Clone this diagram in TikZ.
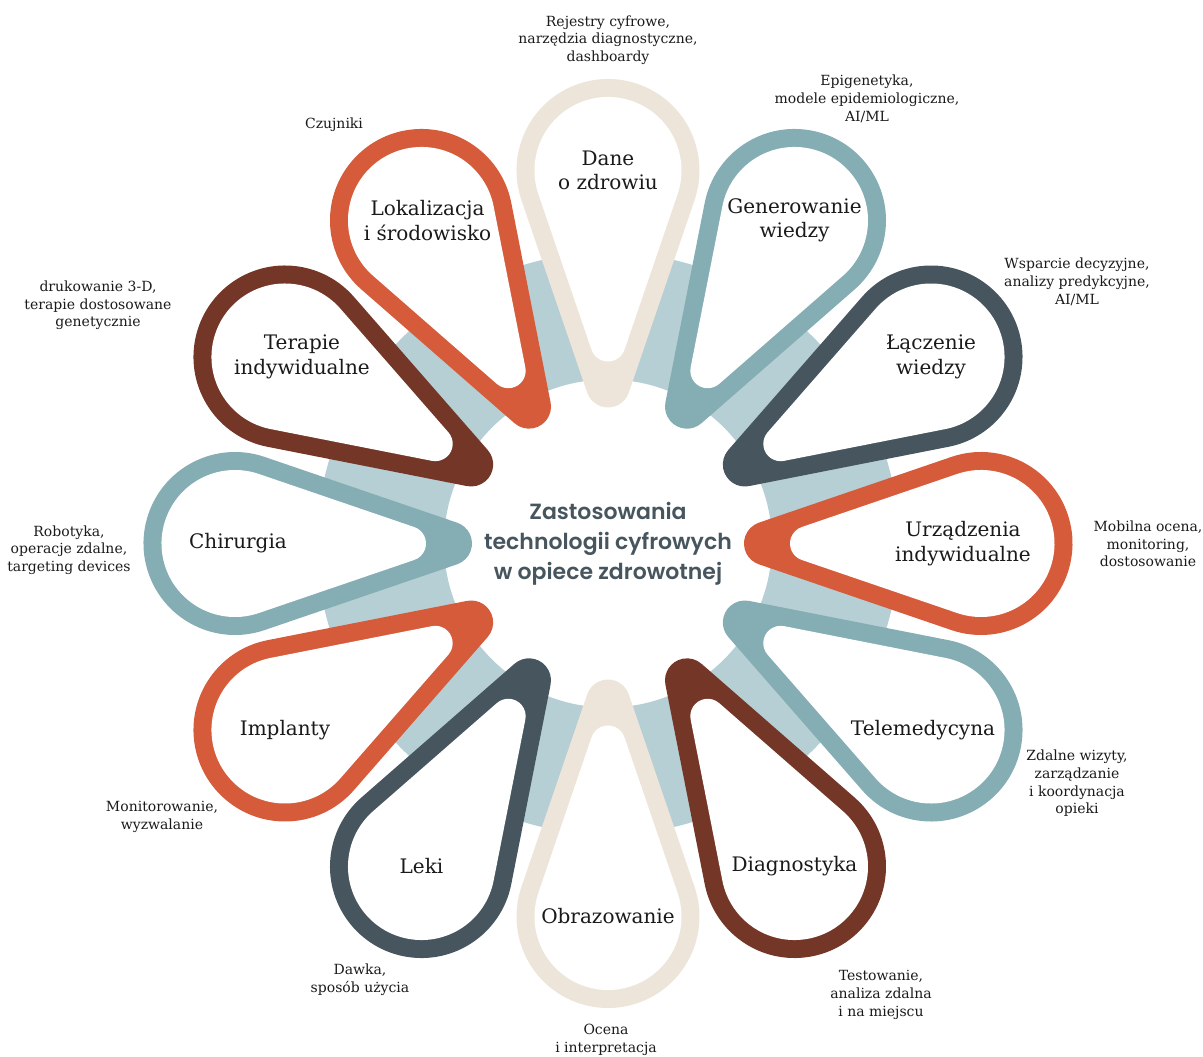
\documentclass[tikz,border=0pt]{standalone}
\usepackage{fontspec}
\setmainfont{DejaVu Serif}
\newfontfamily\titrefont{Poppins}[BoldFont={Poppins SemiBold}]
\usetikzlibrary{positioning}
\definecolor{ocre}{RGB}{214,91,58}
\definecolor{sable}{RGB}{237,229,217}
\definecolor{sarcelle}{RGB}{133,173,180}
\definecolor{ardoise}{RGB}{71,86,94}
\definecolor{brique}{RGB}{116,54,38}
\definecolor{anneau}{RGB}{182,207,212}
\definecolor{encre}{RGB}{26,26,26}

% enveloppe de deux cercles : #1 couleur, #2 centre de la pointe, #3 rayon de la pointe, #4 rayon du bulbe
\newcommand{\goutte}[4]{%
  \pgfmathsetmacro\demiangle{asin((#4-#3)/(373-#2))}
  \fill[#1] ([shift={(#2,0)}]90+\demiangle:#3) -- ([shift={(373,0)}]90+\demiangle:#4)
    arc[start angle=90+\demiangle, end angle=-90-\demiangle, radius=#4]
    -- ([shift={(#2,0)}]-90-\demiangle:#3)
    arc[start angle=270-\demiangle, end angle=90+\demiangle, radius=#3] -- cycle;}
\newcommand{\petale}[2]{%
  \begin{scope}[rotate=#1]
    \goutte{#2}{158}{22}{91.5}
    \goutte{white}{199.4}{17.4}{73.5}
  \end{scope}}

\tikzset{
  etiquette/.style={align=center, text=encre, font=\fontsize{20}{24.5}\selectfont},
  legende/.style={align=center, text=encre, font=\fontsize{14}{17.7}\selectfont},
  titre/.style={align=center, text=ardoise, font=\titrefont\bfseries\fontsize{22}{30}\selectfont}
}

\begin{document}
\begin{tikzpicture}[x=1pt,y=1pt]
\useasboundingbox (-608,-513.5) rectangle (595,543.5);
\fill[anneau, even odd rule] (0,0) circle(291) (0,0) circle(164);
\petale{90}{sable}
\petale{60}{sarcelle}
\petale{30}{ardoise}
\petale{0}{ocre}
\petale{-30}{sarcelle}
\petale{-60}{brique}
\petale{-90}{sable}
\petale{-120}{ardoise}
\petale{-150}{ocre}
\petale{180}{sarcelle}
\petale{150}{brique}
\petale{120}{ocre}
\node[titre] (centre) at (0,0) {Zastosowania\\technologii cyfrowych\\w opiece zdrowotnej};
% etykiety
\node[etiquette] (dane) at (90:373) {Dane\\o zdrowiu};
\node[etiquette] (generowanie) at (60:373) {Generowanie\\wiedzy};
\node[etiquette] (laczenie) at (30:373) {Łączenie\\wiedzy};
\node[etiquette, xshift=-18] (urzadzenia) at (0:373) {Urządzenia\\indywidualne};
\node[etiquette, xshift=-8] (telemedycyna) at (-30:373) {Telemedycyna};
\node[etiquette] (diagnostyka) at (-60:373) {Diagnostyka};
\node[etiquette] (obrazowanie) at (-90:373) {Obrazowanie};
\node[etiquette] (leki) at (-120:373) {Leki};
\node[etiquette] (implanty) at (-150:373) {Implanty};
\node[etiquette, xshift=3] (chirurgia) at (180:373) {Chirurgia};
\node[etiquette, xshift=17] (terapie) at (150:373) {Terapie\\indywidualne};
\node[etiquette, xshift=6] (lokalizacja) at (120:373) {Lokalizacja\\i środowisko};
% legendes
\node[legende] (rejestry) at (0,503.5) {Rejestry cyfrowe,\\narzędzia diagnostyczne,\\dashboardy};
\node[legende] (epigenetyka) at (259,444.5) {Epigenetyka,\\modele epidemiologiczne,\\AI/ML};
\node[legende] (wsparcie) at (469,261.5) {Wsparcie decyzyjne,\\analizy predykcyjne,\\AI/ML};
\node[legende] (mobilna) at (540,-0.5) {Mobilna ocena,\\monitoring,\\dostosowanie};
\node[legende] (zdalne) at (469,-240) {Zdalne wizyty,\\zarządzanie\\i koordynacja\\opieki};
\node[legende] (testowanie) at (273,-451.5) {Testowanie,\\analiza zdalna\\i na miejscu};
\node[legende] (ocena) at (-2,-496.5) {Ocena\\i interpretacja};
\node[legende] (dawka) at (-248,-436.5) {Dawka,\\sposób użycia};
\node[legende] (monitorowanie) at (-446,-273.5) {Monitorowanie,\\wyzwalanie};
\node[legende] (robotyka) at (-539,-6.5) {Robotyka,\\operacje zdalne,\\targeting devices};
\node[legende] (drukowanie) at (-510,238) {drukowanie 3-D,\\terapie dostosowane\\genetycznie};
\node[legende] (czujniki) at (-274,418.5) {Czujniki};
\end{tikzpicture}
\end{document}
